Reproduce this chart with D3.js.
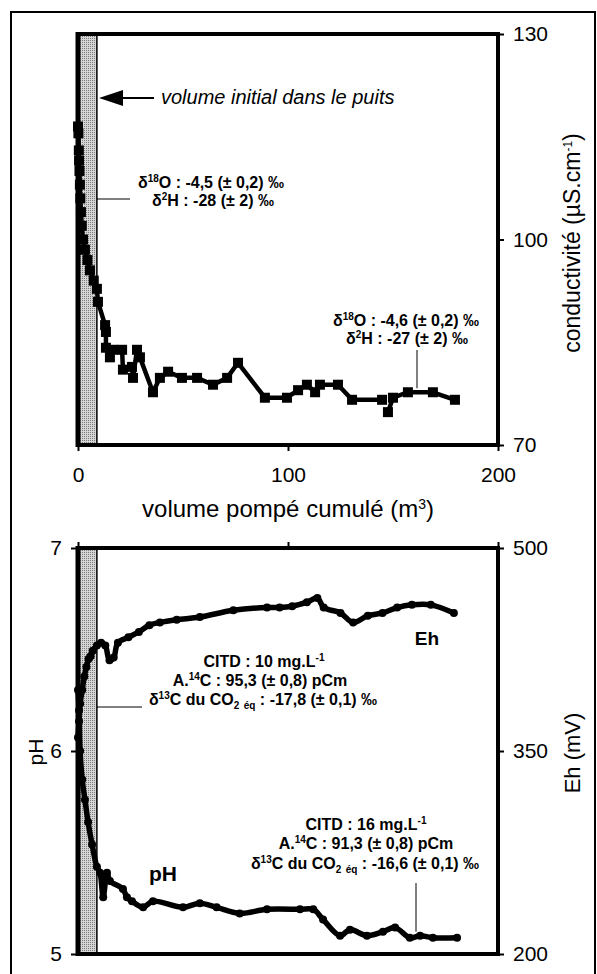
<!DOCTYPE html>
<html lang="fr">
<head>
<meta charset="UTF-8">
<title>Conductivité, pH et Eh</title>
<script src="https://d3js.org/d3.v7.min.js"></script>
<style>
  body { margin: 0; background: #fff; }
  svg text { font-family: "Liberation Sans", Arial, Helvetica, sans-serif; fill: #000; }
  .tick text { font-size: 21px; }
  .tick line { stroke: #000; stroke-width: 2; }
  .note { font-size: 16px; font-weight: bold; }
  .title { font-size: 23px; }
</style>
</head>
<body>
<svg id="chart" width="597" height="974"></svg>
<script>
// conductivité (µS/cm) vs volume pompé cumulé (m3) -- line broken after 144.8
const condVolume1 = [0, 0.2, 0.4, 0.5, 0.7, 0.9, 1.1, 1.4, 1.8, 2.4, 3.3, 4.5, 5.7, 7.5, 9, 9.5,
  12.9, 13.3, 13.3, 15.2, 16.7, 21, 21.4, 25.7, 26.2, 28.1, 29.5, 35.7, 39, 42.9, 49.5, 56.7,
  64.3, 71, 76.2, 89, 99.5, 104.8, 109, 112.9, 115.2, 123.8, 130.5, 144.8];
const cond1 = [116.5, 115.5, 113, 111.5, 110, 108, 106, 104, 102, 100, 98.5, 97, 95.5, 94, 92.8, 90.9,
  87.5, 86.5, 84.2, 82.8, 83.9, 83.9, 81, 81.4, 79.8, 83.9, 82.8, 77.7, 79.8, 80.7, 79.8, 79.8,
  78.8, 79.8, 82, 76.9, 76.9, 78, 78.8, 77.7, 78.8, 78.8, 76.6, 76.6];
const condVolume2 = [147.6, 150, 157.1, 169, 179.5];
const cond2 = [74.8, 76.9, 77.7, 77.7, 76.6];

// Eh (mV)
const ehVolume = [0, 0.5, 1, 2, 3, 4, 5, 6, 7, 9, 11, 13, 15, 17, 19, 24, 29, 34, 39, 47, 58, 74, 90,
  96, 102, 109, 114, 117, 125, 131, 138, 145, 152, 159, 168, 179];
const eh = [360, 372, 385, 395, 405, 412, 418, 420, 424, 428, 430, 428, 417, 419, 430, 434, 438, 443, 445,
  447, 449, 454, 456, 456, 457, 460, 463, 456, 452, 445, 450, 452, 456, 458, 458, 452];

// pH
const phVolume = [0, 0.5, 1, 2, 3.3, 4.8, 6.7, 9, 10.5, 12, 13.8, 15.2, 21.4, 23.3, 25.7, 31, 35.7, 50,
  58, 66, 77, 90, 105.7, 112, 116.7, 124.8, 129.5, 137.6, 145.2, 151, 158, 162.9, 169, 180.5];
const ph = [6.30, 6.20, 6.00, 5.86, 5.76, 5.65, 5.54, 5.43, 5.40, 5.28, 5.40, 5.36, 5.32, 5.28, 5.26, 5.23,
  5.26, 5.23, 5.25, 5.23, 5.20, 5.22, 5.22, 5.22, 5.17, 5.09, 5.12, 5.09, 5.11, 5.13, 5.08, 5.09, 5.08, 5.08];

const initialVolume = 9;   // volume initial dans le puits (m3)
const volumeTicks = [0, 100, 200];
const condTicks = [70, 100, 130];
const phTicks = [5, 6, 7];
const ehTicks = [200, 350, 500];

const svg = d3.select('#chart');

// outer frame
svg.append('rect').attr('x', 11).attr('y', 12).attr('width', 584).attr('height', 990)
  .attr('fill', 'none').attr('stroke', '#000').attr('stroke-width', 2);

// grey stipple for the initial volume band
const pat = svg.append('defs').append('pattern').attr('id', 'stip')
  .attr('width', 2).attr('height', 2).attr('patternUnits', 'userSpaceOnUse');
pat.append('rect').attr('width', 2).attr('height', 2).attr('fill', '#d6d6d6');
pat.append('rect').attr('width', 1).attr('height', 1).attr('fill', '#7a7a7a');

const x = d3.scaleLinear().domain([0, 200]).range([78, 498]);
const yCond = d3.scaleLinear().domain([70, 130]).range([445, 34]);
const yPh = d3.scaleLinear().domain([5, 7]).range([954, 548]);
const yEh = d3.scaleLinear().domain([200, 500]).range([954, 548]);

function band(y0, y1) {
  svg.append('rect').attr('x', x(0)).attr('y', y0)
    .attr('width', x(initialVolume) - x(0)).attr('height', y1 - y0)
    .attr('fill', 'url(#stip)');
  svg.append('line').attr('x1', x(initialVolume)).attr('x2', x(initialVolume))
    .attr('y1', y0).attr('y2', y1).attr('stroke', '#000').attr('stroke-width', 1.5);
}

function frame(y0, y1) {
  const g = svg.append('g').attr('stroke', '#000').attr('fill', 'none');
  g.append('line').attr('x1', x(0)).attr('x2', x(200)).attr('y1', y0).attr('y2', y0).attr('stroke-width', 4);
  g.append('line').attr('x1', x(0)).attr('x2', x(200)).attr('y1', y1).attr('y2', y1).attr('stroke-width', 4);
  g.append('line').attr('x1', x(200)).attr('x2', x(200)).attr('y1', y0 - 2).attr('y2', y1 + 2).attr('stroke-width', 4);
  g.append('line').attr('x1', x(0)).attr('x2', x(0)).attr('y1', y0 - 2).attr('y2', y1 + 2).attr('stroke-width', 5);
}

// rich text: parts = [[string, 'sup'|'sub'|null], ...]
function rich(px, py, parts, anchor) {
  const t = svg.append('text').attr('class', 'note').attr('x', px).attr('y', py)
    .attr('text-anchor', anchor || 'middle');
  let shift = 0;
  parts.forEach(([s, kind]) => {
    const target = kind === 'sup' ? -6 : kind === 'sub' ? 4 : 0;
    const ts = t.append('tspan').attr('dy', target - shift).text(s);
    if (kind) ts.style('font-size', '10px');
    shift = target;
  });
  return t;
}

// ---------- top panel ----------
band(34, 445);

const lineCond = d3.line().x(d => x(d[0])).y(d => yCond(d[1]));
[[condVolume1, cond1], [condVolume2, cond2]].forEach(([vs, cs]) => {
  const pts = vs.map((v, i) => [v, cs[i]]);
  svg.append('path').datum(pts).attr('d', lineCond)
    .attr('fill', 'none').attr('stroke', '#000').attr('stroke-width', 4.5).attr('stroke-linejoin', 'round');
  svg.selectAll(null).data(pts).enter().append('rect')
    .attr('x', d => x(d[0]) - 5).attr('y', d => yCond(d[1]) - 5)
    .attr('width', 10).attr('height', 10).attr('fill', '#000');
});

frame(34, 445);

svg.append('g').attr('transform', `translate(${x(200)},0)`)
  .call(d3.axisRight(yCond).tickValues(condTicks).tickSize(6).tickPadding(9))
  .call(g => g.select('.domain').remove());
svg.append('g').attr('transform', `translate(0,445)`)
  .call(d3.axisBottom(x).tickValues(volumeTicks).tickSize(6).tickPadding(16))
  .call(g => g.select('.domain').remove());

const condTitle = svg.append('text').attr('class', 'title')
  .attr('transform', 'translate(580,243) rotate(-90)').attr('text-anchor', 'middle');
condTitle.append('tspan').text('conductivité (µS.cm');
condTitle.append('tspan').attr('dy', -8).style('font-size', '12px').text('-1');
condTitle.append('tspan').attr('dy', 8).text(')');

const volTitle = svg.append('text').attr('class', 'title').attr('x', 288).attr('y', 517)
  .attr('text-anchor', 'middle').style('font-size', '24px');
volTitle.append('tspan').text('volume pompé cumulé (m');
volTitle.append('tspan').attr('dy', -8).style('font-size', '14px').text('3');
volTitle.append('tspan').attr('dy', 8).text(')');

// arrow + note
svg.append('path').attr('d', 'M99,98 L123,90 L123,106 Z').attr('fill', '#000');
svg.append('line').attr('x1', 122).attr('x2', 154).attr('y1', 98).attr('y2', 98)
  .attr('stroke', '#000').attr('stroke-width', 2);
svg.append('text').attr('x', 161).attr('y', 104).style('font-size', '20px')
  .style('font-style', 'italic').text('volume initial dans le puits');

rich(211, 188, [['δ'], ['18', 'sup'], ['O : -4,5 (± 0,2) ‰']]);
rich(213, 206, [['δ'], ['2', 'sup'], ['H : -28 (± 2) ‰']]);
svg.append('line').attr('x1', x(initialVolume)).attr('x2', 130).attr('y1', 199).attr('y2', 199)
  .attr('stroke', '#000').attr('stroke-width', 1);

rich(406, 326, [['δ'], ['18', 'sup'], ['O : -4,6 (± 0,2) ‰']]);
rich(407, 344, [['δ'], ['2', 'sup'], ['H : -27 (± 2) ‰']]);
svg.append('line').attr('x1', 417).attr('x2', 417).attr('y1', 350).attr('y2', yCond(77.7) - 4)
  .attr('stroke', '#000').attr('stroke-width', 1);

// ---------- bottom panel ----------
band(548, 954);

const lineEh = d3.line().x(d => x(d[0])).y(d => yEh(d[1])).curve(d3.curveCatmullRom.alpha(0.5));
const linePh = d3.line().x(d => x(d[0])).y(d => yPh(d[1])).curve(d3.curveCatmullRom.alpha(0.5));
const ehPts = ehVolume.map((v, i) => [v, eh[i]]);
const phPts = phVolume.map((v, i) => [v, ph[i]]);
[[ehPts, lineEh, yEh], [phPts, linePh, yPh]].forEach(([pts, gen, ys]) => {
  svg.append('path').datum(pts).attr('d', gen)
    .attr('fill', 'none').attr('stroke', '#000').attr('stroke-width', 5.5)
    .attr('stroke-linejoin', 'round').attr('stroke-linecap', 'round');
  svg.selectAll(null).data(pts).enter().append('circle')
    .attr('cx', d => x(d[0])).attr('cy', d => ys(d[1])).attr('r', 4).attr('fill', '#000');
});

frame(548, 954);

svg.append('g').attr('transform', `translate(${x(200)},0)`)
  .call(d3.axisRight(yEh).tickValues(ehTicks).tickSize(6).tickPadding(9))
  .call(g => g.select('.domain').remove());
svg.append('g').attr('transform', `translate(${x(0)},0)`)
  .call(d3.axisLeft(yPh).tickValues(phTicks).tickFormat(d3.format('d')).tickSize(7).tickPadding(9))
  .call(g => g.select('.domain').remove());
svg.append('g').attr('transform', `translate(0,548)`)
  .call(d3.axisTop(x).tickValues(volumeTicks).tickSize(6).tickFormat(''))
  .call(g => g.select('.domain').remove());

svg.append('text').attr('transform', 'translate(43,752) rotate(-90)')
  .attr('text-anchor', 'middle').style('font-size', '21px').text('pH');
svg.append('text').attr('transform', 'translate(580,753) rotate(-90)')
  .attr('text-anchor', 'middle').style('font-size', '22px').text('Eh (mV)');

svg.append('text').attr('x', 427).attr('y', 645).attr('text-anchor', 'middle')
  .style('font-size', '19px').style('font-weight', 'bold').text('Eh');
svg.append('text').attr('x', 163).attr('y', 881).attr('text-anchor', 'middle')
  .style('font-size', '21px').style('font-weight', 'bold').text('pH');

rich(264, 667, [['CITD : 10 mg.L'], ['-1', 'sup'], ['']]);
rich(260, 686, [['A.'], ['14', 'sup'], ['C : 95,3 (± 0,8) pCm']]);
rich(263, 705, [['δ'], ['13', 'sup'], ['C du CO'], ['2', 'sub'], [' '], ['éq', 'sub'], [' : -17,8 (± 0,1) ‰']]);
svg.append('line').attr('x1', x(initialVolume)).attr('x2', 142).attr('y1', 707).attr('y2', 707)
  .attr('stroke', '#000').attr('stroke-width', 1);

rich(366, 830, [['CITD : 16 mg.L'], ['-1', 'sup'], ['']]);
rich(366, 849, [['A.'], ['14', 'sup'], ['C : 91,3 (± 0,8) pCm']]);
rich(365, 869, [['δ'], ['13', 'sup'], ['C du CO'], ['2', 'sub'], [' '], ['éq', 'sub'], [' : -16,6 (± 0,1) ‰']]);
svg.append('line').attr('x1', 416).attr('x2', 416).attr('y1', 883).attr('y2', yPh(5.09) - 4)
  .attr('stroke', '#000').attr('stroke-width', 1);
</script>
</body>
</html>
